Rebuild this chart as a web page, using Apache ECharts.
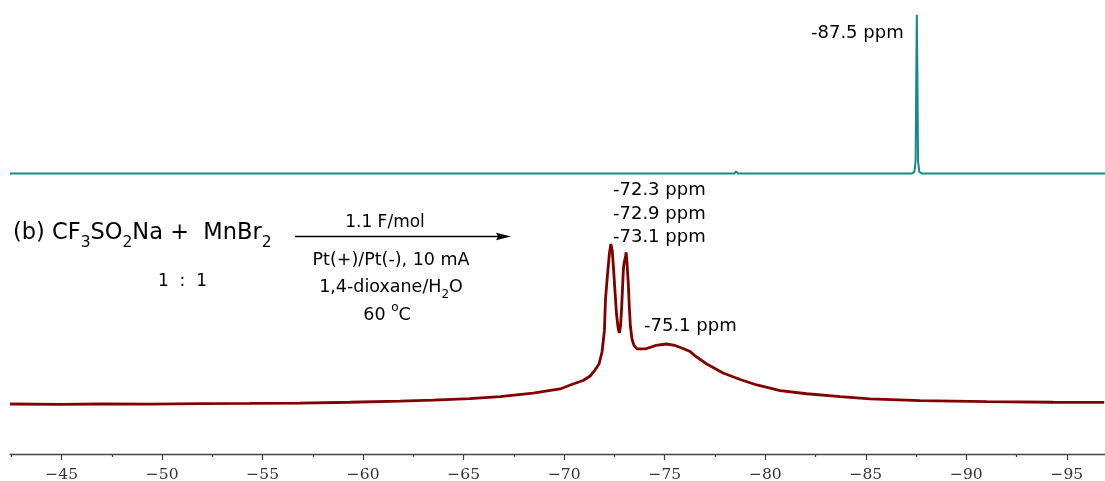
<!DOCTYPE html>
<html>
<head>
<meta charset="utf-8">
<script src="https://cdn.jsdelivr.net/npm/echarts@6/dist/echarts.min.js"></script>
<style>
html,body{margin:0;padding:0;background:#fff;}
#chart{width:1105px;height:481px;}
</style>
</head>
<body>
<div id="chart"></div>
<script>
// x axis range (ppm) and ticks
const axisMin = -96.9;
const axisMax = -42.43;
const majorTicks = [-45, -50, -55, -60, -65, -70, -75, -80, -85, -90, -95];
const minorTicks = [-42.5, -47.5, -52.5, -57.5, -62.5, -67.5, -72.5, -77.5, -82.5, -87.5, -92.5];

// top spectrum (reference, teal)
const topPpm = [-42.43, -60, -78.45, -78.55, -78.65, -87.3, -87.42, -87.48, -87.51, -87.54, -87.57, -87.6, -87.66, -87.78, -96.9];
const topInt = [0, 0, 0, 1.3, 0, 0, 1.2, 8, 60, 100, 60, 8, 1.2, 0, 0];

// bottom spectrum (reaction mixture, dark red)
const botPpm = [-42.43, -44.92, -46.91, -49.39, -51.88, -54.37, -56.86, -59.34, -61.83, -63.47, -65.31, -66.81, -68.45, -69.79, -70.44, -70.94, -71.29, -71.53, -71.73, -71.88, -72.0, -72.05, -72.15, -72.25, -72.32, -72.39, -72.45, -72.53, -72.6, -72.68, -72.74, -72.8, -72.85, -72.9, -72.94, -72.97, -73.01, -73.05, -73.08, -73.12, -73.19, -73.24, -73.29, -73.37, -73.47, -73.62, -74.02, -74.57, -75.06, -75.51, -75.91, -76.26, -76.46, -77.09, -77.9, -78.75, -79.58, -80.74, -82.06, -83.72, -85.21, -87.7, -91.02, -94.32, -96.86];
const botInt = [0, -0.2, 0, -0.1, 0.25, 0.4, 0.6, 1.1, 1.75, 2.4, 3.4, 4.6, 6.75, 9.4, 12.5, 14.7, 17.5, 21.2, 25, 32.5, 46, 65, 80.6, 94.4, 100, 95.6, 85, 69.4, 56.25, 47.5, 44.4, 48.75, 58.75, 72.5, 83.75, 87.5, 86.25, 92.5, 94.8, 88.75, 74.4, 60, 48.75, 40.6, 36.6, 34.4, 34.4, 36.6, 37.5, 36.6, 34.7, 32.8, 30.6, 25, 19.4, 15.3, 11.9, 8.4, 6.4, 4.6, 3.25, 2.1, 1.5, 1.1, 1.0];

const topData = topPpm.map((p, i) => [p, topInt[i]]);
const botData = botPpm.map((p, i) => [p, botInt[i]]);

const chart = echarts.init(document.getElementById('chart'), null, {renderer: 'canvas'});
const sans = 'DejaVu Sans';
const txt = (x, y, text, size, align) => ({
  type: 'text', x: x, y: y, silent: true,
  style: {text: text, fontSize: size, fontFamily: sans, fill: '#000', align: align || 'left', verticalAlign: 'middle'}
});

const option = {
  animation: false,
  backgroundColor: '#fff',
  grid: [
    {left: 10, right: 0, top: 14.7, bottom: 291.6, outerBoundsMode: 'none', containLabel: false},
    {left: 10, right: 0, top: 244, bottom: 27, outerBoundsMode: 'none', containLabel: false}
  ],
  xAxis: [
    {type: 'value', gridIndex: 0, min: axisMin, max: axisMax, inverse: true, show: false},
    {type: 'value', gridIndex: 1, min: axisMin, max: axisMax, inverse: true, position: 'bottom',
      axisLine: {show: true, onZero: false, lineStyle: {color: '#444', width: 1.3}},
      axisTick: {show: true, length: 6, customValues: majorTicks, lineStyle: {color: '#444', width: 1.2}},
      axisLabel: {show: true, customValues: majorTicks, margin: 13, fontFamily: 'DejaVu Serif', fontSize: 15.5, color: '#333',
        formatter: v => String(v).replace('-', '\u2212')},
      splitLine: {show: false}},
    {type: 'value', gridIndex: 1, min: axisMin, max: axisMax, inverse: true, position: 'bottom',
      axisLine: {show: false, onZero: false},
      axisTick: {show: true, length: 3, customValues: minorTicks, lineStyle: {color: '#444', width: 1.2}},
      axisLabel: {show: false},
      splitLine: {show: false}}
  ],
  yAxis: [
    {type: 'value', gridIndex: 0, min: -10, max: 100, show: false},
    {type: 'value', gridIndex: 1, min: -31.25, max: 100, show: false}
  ],
  series: [
    {type: 'line', xAxisIndex: 0, yAxisIndex: 0, data: topData, showSymbol: false, symbol: 'none', clip: false,
      lineStyle: {color: '#17898a', width: 2}},
    {type: 'line', xAxisIndex: 1, yAxisIndex: 1, data: botData, showSymbol: false, symbol: 'none', clip: false,
      lineStyle: {color: '#800000', width: 2.8}}
  ],
  graphic: [
    txt(811, 33.3, '-87.5 ppm', 18),
    txt(613, 190.7, '-72.3 ppm', 18),
    txt(613, 214.3, '-72.9 ppm', 18),
    txt(613, 237.7, '-73.1 ppm', 18),
    txt(644, 326.7, '-75.1 ppm', 18),
    {type: 'text', x: 13, y: 232.7, silent: true,
      style: {text: '(b) CF{s|3}SO{s|2}Na +  MnBr{s|2}', fontSize: 22.5, fontFamily: sans, fill: '#000',
        align: 'left', verticalAlign: 'middle', lineHeight: 36,
        rich: {s: {fontSize: 15.5, fontFamily: sans, fill: '#000', verticalAlign: 'bottom', lineHeight: 15}}}},
    txt(158, 281.7, '1  :  1', 17),
    txt(385, 222.3, '1.1 F/mol', 17, 'center'),
    txt(391, 260, 'Pt(+)/Pt(-), 10 mA', 17.5, 'center'),
    {type: 'text', x: 391, y: 287.7, silent: true,
      style: {text: '1,4-dioxane/H{s|2}O', fontSize: 17.5, fontFamily: sans, fill: '#000',
        align: 'center', verticalAlign: 'middle', lineHeight: 26,
        rich: {s: {fontSize: 12, fontFamily: sans, fill: '#000', verticalAlign: 'bottom', lineHeight: 12}}}},
    {type: 'text', x: 387, y: 315, silent: true,
      style: {text: '60 {o|o}C', fontSize: 17.5, fontFamily: sans, fill: '#000',
        align: 'center', verticalAlign: 'middle', lineHeight: 26,
        rich: {o: {fontSize: 12, fontFamily: sans, fill: '#000', verticalAlign: 'top', lineHeight: 12}}}},
    {type: 'line', silent: true, shape: {x1: 295, y1: 236.5, x2: 500, y2: 236.5}, style: {stroke: '#000', lineWidth: 1.5}},
    {type: 'polygon', silent: true, shape: {points: [[511, 236.5], [496, 232.8], [498, 236.5], [496, 240.2]]}, style: {fill: '#000'}}
  ]
};
chart.setOption(option);
</script>
</body>
</html>
